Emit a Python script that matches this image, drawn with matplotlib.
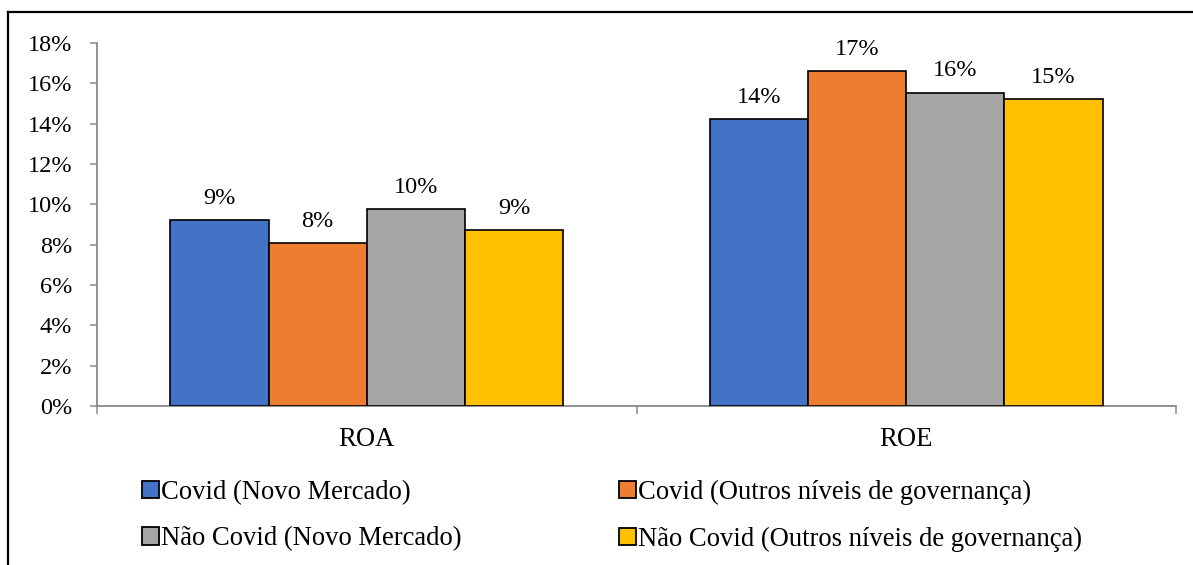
import matplotlib
matplotlib.use("Agg")
import matplotlib.pyplot as plt
import numpy as np
from matplotlib.lines import Line2D
from matplotlib.patches import Patch

plt.rcParams['font.family'] = ['Liberation Serif', 'DejaVu Serif']

categories = ["ROA", "ROE"]
series_names = [
    "Covid (Novo Mercado)",
    "Covid (Outros níveis de governança)",
    "Não Covid (Novo Mercado)",
    "Não Covid (Outros níveis de governança)",
]
values = [
    [9.20, 14.25],
    [8.09, 16.59],
    [9.76, 15.54],
    [8.73, 15.23],
]
colors = ["#4472C4", "#ED7D31", "#A5A5A5", "#FFC000"]
yticks = [0, 2, 4, 6, 8, 10, 12, 14, 16, 18]

W, H = 1193, 565
fig = plt.figure(figsize=(W / 100, H / 100), dpi=100)
ax = fig.add_axes([97 / W, 1 - 406 / H, (1176 - 97) / W, (406 - 43) / H])

fs_num = 17.5
fs_txt = 19.2
x = np.arange(len(categories))
bw = 0.182
n = len(series_names)
for i, (name, vals, c) in enumerate(zip(series_names, values, colors)):
    pos = x + (i - (n - 1) / 2) * bw
    bars = ax.bar(pos, vals, bw, color=c, edgecolor="black", linewidth=1.2,
                  label=name, zorder=3)
    for b, v in zip(bars, vals):
        ax.annotate(f"{round(v):d}%", (b.get_x() + b.get_width() / 2, v),
                    xytext=(0, 8), textcoords="offset points",
                    ha="center", va="bottom", fontsize=fs_num)

ax.set_xlim(-0.5, 1.5)
ax.set_ylim(0, 18)
ax.set_yticks(yticks)
ax.set_yticklabels([f"{t}%" for t in yticks], fontsize=fs_num)
ax.set_xticks(x)
ax.set_xticklabels(categories, fontsize=fs_txt)
ax.tick_params(axis="x", length=0, pad=15)
ax.tick_params(axis="y", length=5, width=1.1, color="#898989", pad=13)
# category separators on x-axis
ax.set_xticks([-0.5, 0.5, 1.5], minor=True)
ax.tick_params(axis="x", which="minor", length=6, width=1.1, color="#898989")

for s in ["top", "right"]:
    ax.spines[s].set_visible(False)
for s in ["left", "bottom"]:
    ax.spines[s].set_color("#898989")
    ax.spines[s].set_linewidth(1.3)

handles = [Patch(facecolor=c, edgecolor="black", linewidth=1.3) for c in colors]
order = [0, 2, 1, 3]
leg = fig.legend([handles[k] for k in order], [series_names[k] for k in order],
                 ncol=2, loc="upper left",
                 bbox_to_anchor=(142 / W, 1 - 480 / H), frameon=False,
                 fontsize=fs_txt, handlelength=0.62, handleheight=0.62,
                 handletextpad=0.1, columnspacing=5.9, labelspacing=0.8,
                 borderaxespad=0, borderpad=0)

# outer border (left and top visible)
fig.add_artist(Line2D([8 / W, 8 / W], [0, 1 - 12 / H], color="black", lw=1.6,
                      transform=fig.transFigure))
fig.add_artist(Line2D([8 / W, 1], [1 - 12 / H, 1 - 12 / H], color="black", lw=1.6,
                      transform=fig.transFigure))

fig.savefig("out.png", dpi=100)
